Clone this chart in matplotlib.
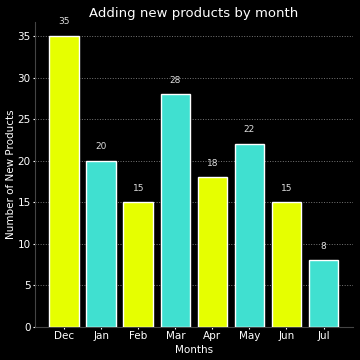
import matplotlib.pyplot as plt

# data
months = ['Dec', 'Jan', 'Feb', 'Mar', 'Apr', 'May', 'Jun', 'Jul']
new_products = [35, 20, 15, 28, 18, 22, 15, 8]
bar_colors = ['#e6ff00', '#40e0d0'] * 4

plt.style.use('dark_background')
fig, ax = plt.subplots(figsize=(3.6, 3.6), dpi=100)

bars = ax.bar(months, new_products, color=bar_colors, edgecolor='white', linewidth=1, zorder=3)
for b, v in zip(bars, new_products):
    ax.annotate(str(v), (b.get_x() + b.get_width() / 2, v), xytext=(0, 7),
                textcoords='offset points', ha='center', va='bottom',
                fontsize=6.5, color='#dddddd')

ax.set_ylim(0, 36.75)
ax.set_title('Adding new products by month', fontsize=9.5, color='white', pad=3)
ax.set_xlabel('Months', fontsize=7.5, labelpad=2.5)
ax.set_ylabel('Number of New Products', fontsize=7.5, labelpad=1)
ax.tick_params(labelsize=7.5, length=1.5, pad=1.5)
ax.grid(axis='y', linestyle=':', color='#777777', linewidth=0.7, zorder=0)
for s in ['top', 'right']:
    ax.spines[s].set_visible(False)
for s in ['left', 'bottom']:
    ax.spines[s].set_color('#444444')

fig.subplots_adjust(left=0.097, right=0.98, top=0.94, bottom=0.092)
fig.savefig('out.png', dpi=100)
